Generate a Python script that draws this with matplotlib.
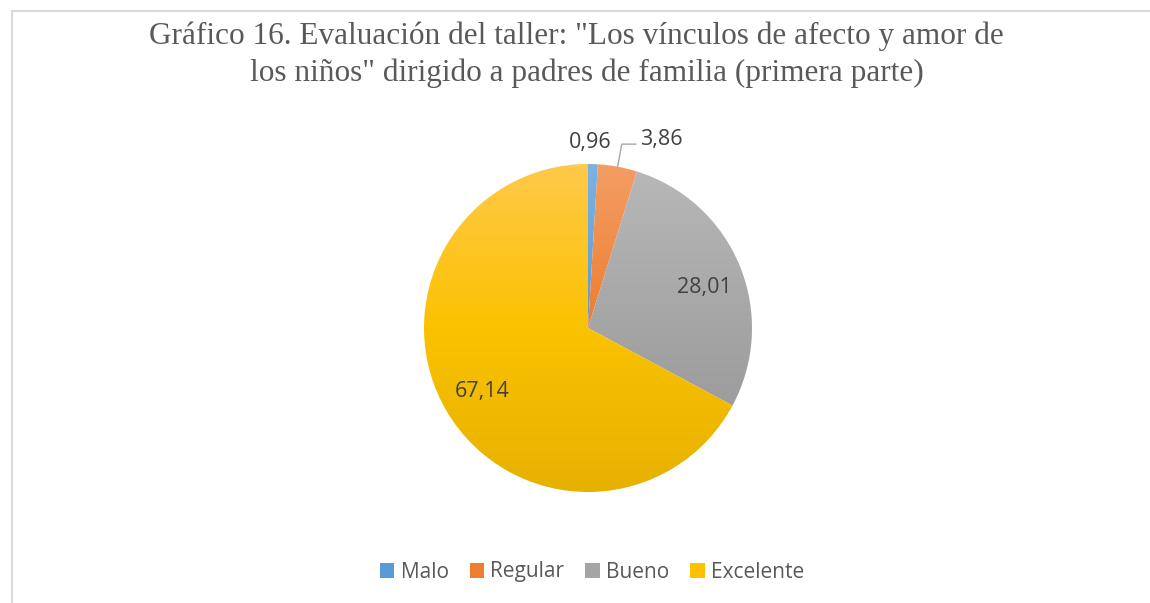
import numpy as np
import matplotlib.pyplot as plt
from matplotlib.colors import LinearSegmentedColormap
from matplotlib.patches import Patch, Rectangle

# data
categories = ["Malo", "Regular", "Bueno", "Excelente"]
values = [0.96, 3.86, 28.01, 67.14]
value_labels = ["0,96", "3,86", "28,01", "67,14"]

# gradient stops per slice: top, middle, bottom
gradients = [
    ["#7DB2E2", "#5B9BD5", "#4785BF"],
    ["#F49E64", "#ED7D31", "#DC6A1A"],
    ["#B8B8B8", "#A5A5A5", "#939393"],
    ["#FFC94A", "#FBC200", "#E6B100"],
]
base_colors = ["#5B9BD5", "#ED7D31", "#A5A5A5", "#FFC000"]

title_lines = ['Gráfico 16. Evaluación del taller: "Los vínculos de afecto y amor de',
               'los niños" dirigido a padres de familia (primera parte)']

W, H = 1150, 603
fig = plt.figure(figsize=(W / 100, H / 100), dpi=100)
fig.patch.set_facecolor("white")
ax = fig.add_axes([0, 0, 1, 1])

cx, cy, r = 588, H - 328, 164
wedges, _ = ax.pie(values, center=(cx, cy), radius=r, startangle=90,
                   counterclock=False, frame=True,
                   wedgeprops=dict(linewidth=0))

grad = np.linspace(0, 1, 256).reshape(-1, 1)
for w, stops in zip(wedges, gradients):
    cmap = LinearSegmentedColormap.from_list("g", stops)
    im = ax.imshow(grad, cmap=cmap, aspect="auto", origin="upper",
                   extent=[cx - r, cx + r, cy - r, cy + r], zorder=2)
    im.set_clip_path(w)
    w.set_facecolor("none")

ax.set_xlim(0, W)
ax.set_ylim(0, H)
ax.set_aspect("equal")
ax.axis("off")

# chart border (light gray, cut off at right/bottom in the original)
ax.add_patch(Rectangle((11.5, -5), W, H - 10.5 + 5, fill=False,
                       edgecolor="#D9D9D9", linewidth=1.5))

label_font = dict(family=["Open Sans", "DejaVu Sans"], fontsize=15.5, color="#404040")

# mid angle of each slice
total = sum(values)
angles = []
start = 90.0
for v in values:
    ext = v / total * 360
    angles.append(np.deg2rad(start - ext / 2))
    start -= ext

# inside labels for the large slices (small angle nudges as in the original)
nudge = {2: np.deg2rad(-3.0), 3: 0.0}
for i in (2, 3):
    a = angles[i] + nudge[i]
    ax.text(cx + 0.75 * r * np.cos(a), cy + 0.75 * r * np.sin(a), value_labels[i],
            ha="center", va="center", zorder=5, **label_font)

# Malo: outside, just above
a = angles[0]
ax.text(cx + 1.13 * r * np.cos(a) - 3, cy + 1.13 * r * np.sin(a), value_labels[0],
        ha="center", va="center", zorder=5, **label_font)

# Regular: outside with leader line
a = angles[1]
p0 = (cx + r * np.cos(a), cy + r * np.sin(a))
p1 = (cx + 1.14 * r * np.cos(a), cy + 1.14 * r * np.sin(a))
p2 = (p1[0] + 14, p1[1])
ax.plot([p0[0], p1[0], p2[0]], [p0[1], p1[1], p2[1]], color="#A6A6A6",
        linewidth=1, zorder=4)
ax.text(p2[0] + 4, p2[1] + 5, value_labels[1], ha="left", va="center",
        zorder=5, **label_font)

# title
title_font = dict(family=["Liberation Serif", "DejaVu Serif"], fontsize=22.5,
                  color="#595959")
fig.text(576 / W, 1 - 44 / H, title_lines[0], ha="center", va="baseline", **title_font)
fig.text(587 / W, 1 - 81 / H, title_lines[1], ha="center", va="baseline", **title_font)

handles = [Patch(facecolor=c, edgecolor="none") for c in base_colors]
leg = fig.legend(handles, categories, loc="center", ncol=4,
                 bbox_to_anchor=(592 / W, 1 - 572 / H), frameon=False,
                 handlelength=0.7, handleheight=0.7, handletextpad=0.3,
                 columnspacing=1.0, prop=dict(family="Open Sans", size=15))
for t in leg.get_texts():
    t.set_color("#595959")

fig.savefig("out.png", dpi=100, facecolor="white")
